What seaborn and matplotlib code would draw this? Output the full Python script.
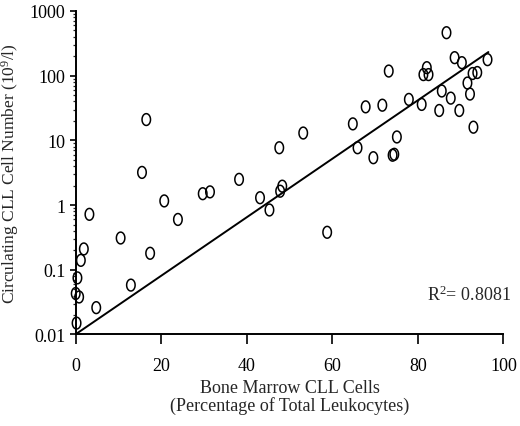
import numpy as np
import pandas as pd
import matplotlib
matplotlib.use("Agg")
import matplotlib.pyplot as plt
from matplotlib.path import Path
from matplotlib.ticker import FixedLocator, FixedFormatter, LogLocator, NullFormatter
import seaborn as sns

# ---- data ----
marrow_pct = [0.2, 0.0, 0.8, 0.4, 1.2, 1.9, 3.2, 4.8, 10.5, 12.9, 15.5, 16.5, 17.4,
              20.7, 23.9, 29.7, 31.4, 38.2, 43.1, 45.3, 47.6, 47.8, 48.3, 53.2, 58.8,
              64.8, 65.9, 67.8, 69.6, 71.7, 73.2, 74.1, 74.5, 75.1, 77.9, 80.9, 81.3,
              82.1, 82.5, 85.0, 85.6, 86.7, 87.7, 88.6, 89.7, 90.3, 91.6, 92.2, 92.8,
              93.9, 93.0, 96.3]
circulating = [0.015, 0.043, 0.038, 0.075, 0.14, 0.21, 0.72, 0.026, 0.31, 0.058, 3.2,
               21, 0.18, 1.16, 0.60, 1.5, 1.6, 2.5, 1.3, 0.84, 7.7, 1.64, 1.96, 13,
               0.38, 18, 7.7, 33, 5.4, 35, 118, 5.9, 6.1, 11.3, 43, 36, 104, 133, 104,
               29, 58, 462, 45, 190, 29, 159, 77, 52, 108, 112, 16, 177]
fit_x = [0.0, 96.5]
fit_y = [0.0101, 232.0]
r_squared = "0.8081"
x_ticks = [0, 20, 40, 60, 80, 100]
y_ticks = [0.01, 0.1, 1, 10, 100, 1000]
y_tick_labels = ["0.01", "0.1", "1", "10", "100", "1000"]

df = pd.DataFrame({"marrow": marrow_pct, "circ": circulating})
fit = pd.DataFrame({"x": fit_x, "y": fit_y})

sns.set_style("ticks")
plt.rcParams["font.family"] = ["Liberation Serif", "DejaVu Serif"]
plt.rcParams["mathtext.fontset"] = "custom"
plt.rcParams["mathtext.rm"] = "Liberation Serif"
plt.rcParams["mathtext.it"] = "Liberation Serif:italic"
plt.rcParams["mathtext.bf"] = "Liberation Serif:bold"

fig = plt.figure(figsize=(5.2, 4.27), dpi=100)
# axes: x 0 -> 75.7 px, 100 -> 503.3 px; y 1000 -> 12 px, 0.01 -> 335.5 px
ax = fig.add_axes([0.1456, 0.2143, 0.8224, 0.7576])

# open ellipse marker (taller than wide)
t = np.linspace(0, 2 * np.pi, 60)
ell = Path(np.column_stack([0.36 * np.cos(t), 0.5 * np.sin(t)]), closed=True)

sns.lineplot(data=fit, x="x", y="y", ax=ax, color="black", linewidth=1.4)
sns.scatterplot(data=df, x="marrow", y="circ", ax=ax, marker=ell, s=72,
                facecolor="none", edgecolor="black", linewidth=1.1, clip_on=False,
                zorder=3)

ax.set_yscale("log")
ax.set_xlim(0, 100)
ax.set_ylim(0.01, 1000)
ax.xaxis.set_major_locator(FixedLocator(x_ticks))
ax.yaxis.set_major_locator(FixedLocator(y_ticks))
ax.yaxis.set_major_formatter(FixedFormatter(y_tick_labels))
ax.yaxis.set_minor_locator(LogLocator(base=10, subs=np.arange(2, 10)))
ax.yaxis.set_minor_formatter(NullFormatter())

for s in ["top", "right"]:
    ax.spines[s].set_visible(False)
for s in ["left", "bottom"]:
    ax.spines[s].set_linewidth(1.4)
    ax.spines[s].set_color("black")

ax.tick_params(axis="x", which="major", direction="out", length=7, width=1.2,
               labelsize=13, colors="black", pad=9)
ax.tick_params(axis="y", which="major", direction="out", length=4.3, width=1.2,
               labelsize=13, colors="black", pad=3)
ax.tick_params(axis="y", which="minor", direction="out", length=2.5, width=0.9)

ax.set_xlabel("Bone Marrow CLL Cells\n(Percentage of Total Leukocytes)", fontsize=13,
              linespacing=1.05)
ax.xaxis.set_label_coords(0.5, -0.137)
ax.set_ylabel("Circulating CLL Cell Number (10$^{9}$/l)", fontsize=12.5)
ax.yaxis.set_label_coords(-0.127, 0.5)

ax.text(0.821, 0.1076, "R$^{2}$= " + r_squared, transform=ax.transAxes,
        ha="left", va="baseline", fontsize=13)

fig.savefig("out.png", dpi=100)
